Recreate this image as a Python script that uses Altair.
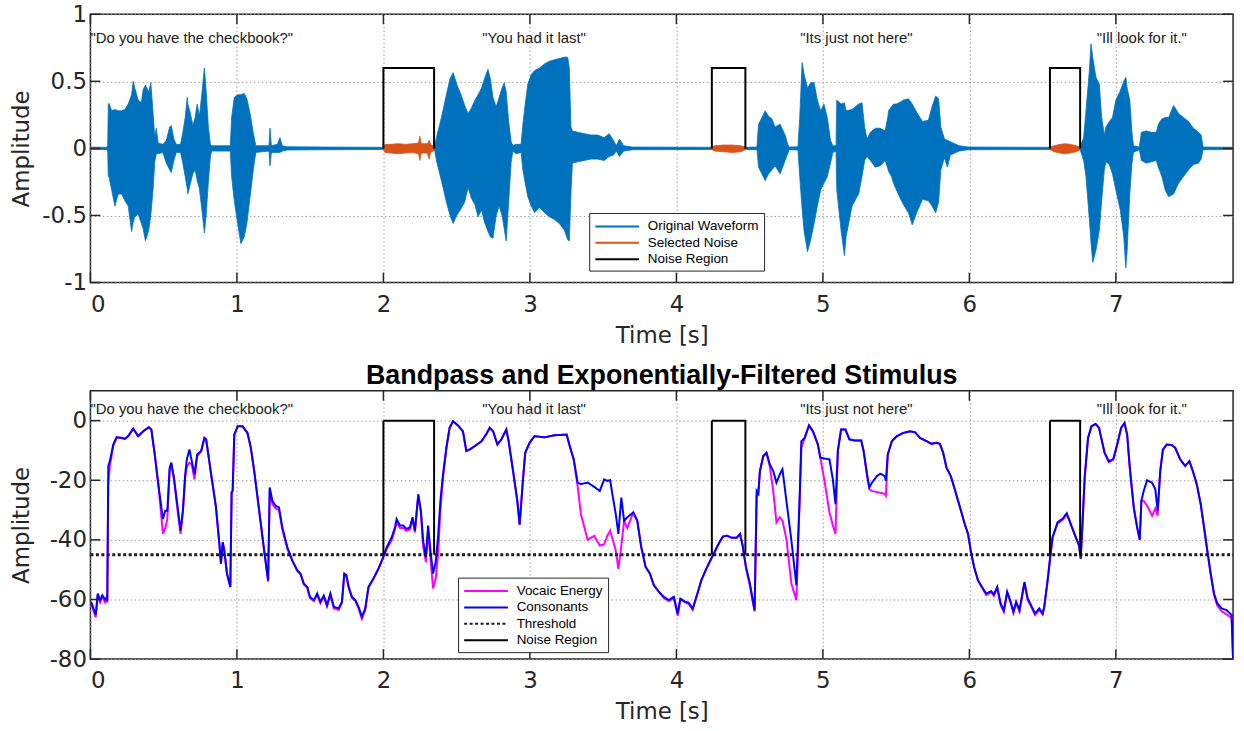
import altair as alt
import pandas as pd

FONT = "Liberation Sans"
AXIS_FONT = "DejaVu Sans"
INK = "#262626"

# ---------------- waveform (upper / lower envelope of the recorded signal) ----------------
wave_time = [
    0.000, 0.050, 0.110, 0.118, 0.122, 0.127, 0.145, 0.167, 0.190, 0.213, 0.235, 0.258,
    0.281, 0.292, 0.303, 0.326, 0.348, 0.360, 0.376, 0.398, 0.412, 0.428, 0.439, 0.450,
    0.462, 0.495, 0.518, 0.541, 0.552, 0.570, 0.586, 0.615, 0.631, 0.647, 0.661, 0.665,
    0.683, 0.699, 0.715, 0.729, 0.744, 0.760, 0.778, 0.790, 0.805, 0.819, 0.828, 0.955,
    0.964, 0.982, 1.005, 1.027, 1.050, 1.068, 1.090, 1.113, 1.129, 1.219, 1.226, 1.235,
    1.276, 1.294, 1.310, 1.344, 1.600, 2.000, 2.346, 2.351, 2.362, 2.396, 2.430, 2.455,
    2.476, 2.500, 2.530, 2.555, 2.578, 2.600, 2.625, 2.646, 2.670, 2.690, 2.714, 2.730,
    2.748, 2.770, 2.790, 2.810, 2.825, 2.838, 2.855, 2.872, 2.884, 2.905, 2.940, 2.952,
    2.968, 2.986, 3.009, 3.032, 3.066, 3.100, 3.133, 3.167, 3.201, 3.235, 3.258, 3.269,
    3.280, 3.290, 3.326, 3.371, 3.416, 3.462, 3.507, 3.541, 3.570, 3.590, 3.612, 3.640,
    3.700, 4.242, 4.471, 4.550, 4.561, 4.584, 4.606, 4.629, 4.652, 4.674, 4.708, 4.742,
    4.760, 4.770, 4.830, 4.842, 4.858, 4.872, 4.895, 4.917, 4.940, 4.962, 4.985, 5.007,
    5.030, 5.052, 5.068, 5.090, 5.095, 5.124, 5.147, 5.158, 5.199, 5.244, 5.267, 5.285,
    5.301, 5.324, 5.358, 5.392, 5.425, 5.443, 5.448, 5.468, 5.482, 5.502, 5.536, 5.550,
    5.584, 5.610, 5.640, 5.680, 5.720, 5.745, 5.770, 5.790, 5.805, 5.830, 5.850, 5.870,
    5.930, 5.990, 6.550, 6.756, 6.780, 6.796, 6.819, 6.830, 6.842, 6.864, 6.887, 6.903,
    6.921, 6.932, 6.955, 6.977, 7.000, 7.030, 7.054, 7.068, 7.077, 7.095, 7.109, 7.120,
    7.160, 7.174, 7.208, 7.242, 7.276, 7.290, 7.314, 7.337, 7.360, 7.394, 7.428, 7.462,
    7.496, 7.530, 7.564, 7.582, 7.595, 7.800,
]
wave_upper = [
    0.008, 0.009, 0.008, 0.020, 0.330, 0.336, 0.280, 0.290, 0.280, 0.280, 0.290, 0.330,
    0.400, 0.500, 0.450, 0.360, 0.340, 0.440, 0.470, 0.420, 0.490, 0.260, 0.080, 0.150,
    0.040, 0.030, 0.060, 0.160, 0.170, 0.070, 0.030, 0.030, 0.120, 0.230, 0.380, 0.330,
    0.260, 0.170, 0.230, 0.330, 0.240, 0.400, 0.600, 0.430, 0.160, 0.030, 0.020, 0.020,
    0.230, 0.380, 0.400, 0.400, 0.410, 0.370, 0.260, 0.110, 0.020, 0.020, 0.150, 0.020,
    0.030, 0.080, 0.020, 0.012, 0.010, 0.008, 0.010, 0.020, 0.080, 0.230, 0.400, 0.520,
    0.565, 0.480, 0.400, 0.320, 0.260, 0.300, 0.360, 0.400, 0.450, 0.520, 0.590, 0.520,
    0.380, 0.310, 0.380, 0.450, 0.490, 0.420, 0.200, 0.050, 0.020, 0.030, 0.030, 0.180,
    0.330, 0.480, 0.550, 0.580, 0.600, 0.630, 0.650, 0.660, 0.670, 0.680, 0.680, 0.600,
    0.160, 0.130, 0.120, 0.110, 0.100, 0.100, 0.080, 0.110, 0.060, 0.020, 0.070, 0.020,
    0.010, 0.008, 0.008, 0.010, 0.180, 0.230, 0.280, 0.240, 0.220, 0.160, 0.180, 0.100,
    0.030, 0.010, 0.012, 0.230, 0.640, 0.550, 0.450, 0.490, 0.490, 0.360, 0.280, 0.330,
    0.230, 0.060, 0.020, 0.020, 0.360, 0.330, 0.340, 0.280, 0.290, 0.330, 0.340, 0.160,
    0.070, 0.120, 0.150, 0.150, 0.130, 0.230, 0.280, 0.310, 0.330, 0.330, 0.350, 0.360,
    0.370, 0.330, 0.270, 0.200, 0.210, 0.310, 0.390, 0.370, 0.160, 0.070, 0.060, 0.050,
    0.020, 0.010, 0.008, 0.010, 0.080, 0.280, 0.580, 0.780, 0.680, 0.530, 0.480, 0.230,
    0.100, 0.160, 0.200, 0.230, 0.360, 0.430, 0.500, 0.530, 0.450, 0.360, 0.130, 0.020,
    0.010, 0.120, 0.130, 0.120, 0.120, 0.180, 0.220, 0.230, 0.230, 0.320, 0.260, 0.230,
    0.200, 0.150, 0.120, 0.100, 0.010, 0.008,
]
wave_lower = [
    -0.008, -0.008, -0.009, -0.020, -0.210, -0.210, -0.310, -0.430, -0.340, -0.340, -0.390, -0.430,
    -0.620, -0.550, -0.510, -0.490, -0.560, -0.600, -0.690, -0.610, -0.500, -0.300, -0.100, -0.040,
    -0.040, -0.030, -0.110, -0.160, -0.180, -0.090, -0.030, -0.030, -0.110, -0.210, -0.300, -0.340,
    -0.260, -0.190, -0.160, -0.240, -0.300, -0.450, -0.630, -0.500, -0.250, -0.060, -0.020, -0.020,
    -0.210, -0.390, -0.560, -0.710, -0.660, -0.560, -0.360, -0.150, -0.030, -0.020, -0.130, -0.030,
    -0.030, -0.030, -0.020, -0.012, -0.010, -0.008, -0.010, -0.020, -0.090, -0.240, -0.400, -0.500,
    -0.560, -0.500, -0.450, -0.400, -0.290, -0.370, -0.420, -0.510, -0.460, -0.550, -0.620, -0.660,
    -0.670, -0.500, -0.430, -0.500, -0.600, -0.690, -0.400, -0.100, -0.020, -0.040, -0.030, -0.160,
    -0.260, -0.360, -0.430, -0.480, -0.440, -0.480, -0.510, -0.530, -0.560, -0.610, -0.680, -0.690,
    -0.340, -0.110, -0.100, -0.090, -0.080, -0.080, -0.090, -0.060, -0.050, -0.020, -0.060, -0.020,
    -0.010, -0.008, -0.008, -0.010, -0.140, -0.190, -0.240, -0.190, -0.160, -0.130, -0.190, -0.090,
    -0.040, -0.010, -0.012, -0.210, -0.450, -0.620, -0.770, -0.680, -0.560, -0.430, -0.310, -0.260,
    -0.210, -0.110, -0.030, -0.020, -0.310, -0.610, -0.800, -0.660, -0.430, -0.340, -0.210, -0.090,
    -0.060, -0.090, -0.140, -0.130, -0.090, -0.150, -0.170, -0.210, -0.260, -0.310, -0.390, -0.420,
    -0.480, -0.570, -0.480, -0.380, -0.390, -0.430, -0.480, -0.400, -0.160, -0.070, -0.140, -0.050,
    -0.020, -0.010, -0.008, -0.010, -0.090, -0.210, -0.530, -0.700, -0.850, -0.760, -0.610, -0.390,
    -0.160, -0.100, -0.120, -0.190, -0.310, -0.460, -0.660, -0.890, -0.760, -0.340, -0.120, -0.030,
    -0.010, -0.090, -0.110, -0.100, -0.090, -0.140, -0.210, -0.310, -0.360, -0.340, -0.260, -0.210,
    -0.160, -0.120, -0.110, -0.080, -0.010, -0.008,
]

# ---------------- noise picked out of the three pauses ----------------
noise_time = [
    2.000, 2.010, 2.050, 2.100, 2.150, 2.200, 2.240, 2.249, 2.258, 2.300, 2.312, 2.322, 2.346,
    4.242, 4.260, 4.320, 4.380, 4.440, 4.471,
    6.550, 6.580, 6.620, 6.650, 6.690, 6.730, 6.756,
]
noise_upper = [
    0.010, 0.030, 0.030, 0.035, 0.030, 0.035, 0.040, 0.090, 0.035, 0.035, 0.060, 0.030, 0.015,
    0.008, 0.020, 0.025, 0.025, 0.020, 0.010,
    0.010, 0.020, 0.030, 0.035, 0.030, 0.020, 0.010,
]
noise_lower = [
    -0.010, -0.030, -0.035, -0.040, -0.035, -0.030, -0.040, -0.090, -0.035, -0.035, -0.080, -0.030, -0.015,
    -0.008, -0.020, -0.025, -0.030, -0.025, -0.010,
    -0.010, -0.025, -0.035, -0.040, -0.035, -0.025, -0.010,
]
noise_part = [1] * 13 + [2] * 6 + [3] * 7

# noise regions (s) and their marker heights in each panel
region_start = [2.000, 4.242, 6.550]
region_end = [2.346, 4.471, 6.756]
region_top_amp = 0.6
region_level_low, region_level_high = -45, 0

threshold_level = -45

# ---------------- band-passed, exponentially filtered envelopes ----------------
env_time = [
    0.000, 0.009, 0.036, 0.050, 0.066, 0.081, 0.100, 0.111, 0.115, 0.122, 0.133, 0.156,
    0.179, 0.213, 0.235, 0.258, 0.292, 0.326, 0.360, 0.398, 0.416, 0.439, 0.466, 0.495,
    0.511, 0.525, 0.541, 0.552, 0.570, 0.597, 0.615, 0.631, 0.647, 0.658, 0.676, 0.692,
    0.710, 0.729, 0.756, 0.778, 0.790, 0.824, 0.857, 0.880, 0.891, 0.903, 0.914, 0.932,
    0.955, 0.964, 0.971, 0.982, 1.005, 1.038, 1.072, 1.095, 1.118, 1.152, 1.186, 1.213,
    1.224, 1.242, 1.265, 1.287, 1.310, 1.344, 1.378, 1.412, 1.434, 1.457, 1.480, 1.498,
    1.525, 1.548, 1.570, 1.593, 1.615, 1.638, 1.661, 1.695, 1.717, 1.733, 1.747, 1.763,
    1.785, 1.808, 1.830, 1.853, 1.876, 1.898, 1.932, 1.966, 1.995, 2.023, 2.057, 2.079,
    2.090, 2.113, 2.136, 2.158, 2.181, 2.199, 2.215, 2.238, 2.256, 2.271, 2.290, 2.305,
    2.321, 2.339, 2.357, 2.373, 2.389, 2.407, 2.430, 2.452, 2.475, 2.509, 2.543, 2.566,
    2.588, 2.622, 2.670, 2.704, 2.726, 2.749, 2.778, 2.805, 2.839, 2.855, 2.885, 2.914,
    2.930, 2.952, 2.968, 2.998, 3.032, 3.100, 3.167, 3.251, 3.269, 3.299, 3.326, 3.348,
    3.394, 3.439, 3.477, 3.507, 3.529, 3.548, 3.563, 3.586, 3.604, 3.624, 3.643, 3.665,
    3.706, 3.733, 3.760, 3.790, 3.819, 3.846, 3.880, 3.914, 3.948, 3.982, 4.009, 4.027,
    4.061, 4.084, 4.111, 4.140, 4.170, 4.204, 4.238, 4.265, 4.294, 4.317, 4.344, 4.378,
    4.412, 4.434, 4.452, 4.475, 4.502, 4.520, 4.534, 4.548, 4.559, 4.570, 4.593, 4.615,
    4.638, 4.661, 4.683, 4.706, 4.724, 4.751, 4.785, 4.819, 4.842, 4.853, 4.876, 4.905,
    4.932, 4.966, 4.982, 5.011, 5.045, 5.068, 5.086, 5.102, 5.124, 5.154, 5.181, 5.222,
    5.262, 5.278, 5.301, 5.317, 5.335, 5.369, 5.391, 5.421, 5.430, 5.443, 5.471, 5.505,
    5.550, 5.595, 5.629, 5.663, 5.708, 5.742, 5.776, 5.799, 5.821, 5.844, 5.873, 5.900,
    5.923, 5.946, 5.968, 5.991, 6.009, 6.032, 6.059, 6.086, 6.115, 6.149, 6.167, 6.190,
    6.213, 6.235, 6.258, 6.278, 6.301, 6.319, 6.342, 6.376, 6.398, 6.421, 6.448, 6.477,
    6.500, 6.511, 6.534, 6.552, 6.568, 6.602, 6.636, 6.665, 6.692, 6.726, 6.749, 6.760,
    6.771, 6.787, 6.810, 6.833, 6.862, 6.885, 6.900, 6.923, 6.952, 6.982, 7.009, 7.036,
    7.059, 7.077, 7.095, 7.122, 7.145, 7.163, 7.174, 7.190, 7.213, 7.247, 7.269, 7.285,
    7.303, 7.321, 7.348, 7.382, 7.405, 7.439, 7.473, 7.502, 7.525, 7.552, 7.579, 7.602,
    7.624, 7.647, 7.670, 7.692, 7.722, 7.756, 7.790, 7.800,
]
consonants = [
    -60.8, -61.3, -65.2, -58.0, -60.2, -58.6, -60.0, -59.3, -60.5, -15.2, -13.5, -8.0,
    -5.6, -5.8, -6.1, -5.2, -2.7, -5.2, -3.6, -2.2, -3.0, -11.3, -22.4, -33.0,
    -30.2, -30.2, -15.8, -14.1, -19.1, -29.7, -36.9, -30.2, -18.0, -13.0, -9.7, -13.6,
    -18.0, -11.3, -10.2, -5.8, -6.3, -18.0, -29.0, -41.3, -48.0, -40.8, -43.6, -51.3,
    -55.8, -24.1, -23.5, -4.7, -1.9, -1.9, -4.1, -9.1, -16.9, -30.2, -43.6, -53.6,
    -22.4, -26.9, -28.6, -29.1, -35.8, -42.4, -46.9, -50.2, -51.3, -54.7, -55.8, -59.1,
    -60.2, -58.0, -60.8, -58.7, -61.9, -58.0, -62.4, -63.0, -60.8, -51.3, -51.8, -55.8,
    -59.1, -60.2, -62.4, -65.8, -63.0, -55.8, -53.0, -49.7, -46.3, -42.4, -39.1, -35.8,
    -33.0, -35.2, -35.2, -36.3, -35.8, -32.4, -36.9, -24.7, -30.2, -40.2, -45.8, -35.2,
    -43.6, -51.3, -47.4, -39.1, -26.9, -18.0, -9.1, -2.4, -0.2, -1.6, -3.6, -10.2,
    -9.7, -8.6, -6.9, -4.4, -2.4, -3.6, -8.0, -6.3, -3.0, -6.9, -16.9, -26.9,
    -34.9, -20.2, -10.8, -7.4, -5.2, -5.6, -4.9, -4.7, -8.0, -13.0, -20.8, -21.3,
    -20.8, -22.2, -23.6, -19.7, -20.2, -20.0, -24.7, -31.3, -38.0, -25.8, -33.6, -32.4,
    -30.8, -33.6, -42.4, -49.1, -51.3, -55.2, -57.4, -59.1, -60.2, -59.1, -64.7, -59.7,
    -60.8, -61.1, -63.0, -58.6, -53.6, -49.7, -46.3, -43.6, -40.8, -38.9, -38.6, -39.3,
    -39.3, -38.0, -41.9, -49.1, -54.7, -59.7, -63.6, -23.6, -24.4, -16.9, -11.9, -10.8,
    -14.7, -16.9, -20.8, -18.0, -16.3, -26.9, -40.2, -55.2, -24.7, -6.9, -5.8, -1.6,
    -3.6, -8.0, -12.4, -12.7, -13.0, -19.7, -28.0, -10.2, -3.0, -3.0, -6.3, -6.7,
    -6.7, -10.2, -18.0, -22.4, -20.8, -18.6, -17.8, -18.6, -20.2, -11.3, -6.9, -5.2,
    -4.1, -3.6, -3.9, -5.8, -6.9, -7.8, -7.4, -7.8, -10.8, -15.8, -18.6, -23.0,
    -26.9, -30.8, -34.7, -38.0, -43.6, -49.1, -53.6, -55.8, -58.0, -57.2, -58.3, -55.8,
    -61.3, -63.6, -57.4, -60.2, -64.1, -60.8, -63.6, -54.1, -59.7, -61.9, -64.7, -63.0,
    -64.7, -62.4, -53.6, -45.8, -39.1, -34.1, -32.9, -31.1, -34.7, -39.1, -41.9, -46.3,
    -35.8, -19.1, -5.8, -1.9, -1.1, -2.4, -5.8, -10.8, -13.6, -13.0, -8.0, -2.4,
    -0.8, -4.7, -15.8, -29.1, -35.8, -40.0, -26.9, -23.6, -20.0, -20.8, -23.0, -30.2,
    -16.9, -9.7, -8.0, -8.2, -9.1, -13.0, -15.2, -13.6, -16.9, -21.3, -28.0, -35.8,
    -43.6, -51.3, -58.0, -61.3, -63.0, -63.6, -65.2, -80.0,
]
vocaic = [
    -61.5, -62.0, -66.0, -58.5, -61.0, -59.0, -61.0, -60.0, -61.0, -21.3, -15.0, -8.5,
    -5.6, -5.8, -6.1, -5.2, -2.7, -5.2, -3.6, -2.2, -3.0, -11.3, -22.4, -38.0,
    -36.0, -33.0, -16.5, -14.5, -19.5, -31.0, -38.0, -31.0, -19.0, -15.5, -14.1, -14.7,
    -19.7, -12.0, -10.2, -5.8, -6.3, -18.0, -29.0, -41.3, -48.0, -40.8, -43.6, -51.3,
    -55.8, -24.1, -23.5, -4.7, -1.9, -1.9, -4.1, -9.1, -16.9, -30.2, -43.6, -54.0,
    -23.5, -28.0, -29.5, -30.0, -36.5, -43.0, -47.0, -50.5, -51.5, -55.0, -56.0, -59.5,
    -60.5, -58.5, -61.2, -59.0, -62.3, -58.5, -63.0, -63.5, -61.0, -51.5, -52.0, -56.0,
    -59.5, -60.5, -63.0, -66.5, -63.5, -56.0, -53.0, -49.7, -46.3, -43.0, -40.0, -36.5,
    -34.0, -36.0, -36.0, -37.0, -36.5, -33.0, -37.5, -25.0, -31.0, -42.0, -47.5, -37.0,
    -46.0, -56.3, -53.0, -45.0, -30.0, -19.0, -9.1, -2.4, -0.2, -1.6, -3.6, -10.2,
    -9.7, -8.6, -6.9, -4.4, -2.4, -3.6, -8.0, -6.3, -3.0, -6.9, -16.9, -26.9,
    -34.9, -20.2, -10.8, -7.4, -5.2, -5.6, -4.9, -4.7, -8.0, -13.0, -22.0, -31.3,
    -40.0, -38.6, -41.9, -41.5, -38.6, -36.9, -39.5, -43.5, -49.7, -42.0, -33.6, -36.0,
    -30.8, -33.6, -42.4, -49.1, -51.3, -55.2, -57.4, -59.5, -60.5, -59.5, -65.5, -60.0,
    -61.0, -61.5, -63.5, -58.6, -53.6, -49.7, -46.3, -43.6, -40.8, -38.9, -38.6, -39.3,
    -39.3, -38.0, -41.9, -49.5, -55.5, -60.5, -64.0, -25.0, -25.0, -17.0, -11.9, -10.8,
    -15.5, -23.6, -34.1, -32.4, -33.5, -39.7, -54.7, -60.2, -26.0, -9.0, -5.8, -1.6,
    -3.6, -8.0, -12.4, -20.2, -30.8, -35.2, -38.0, -10.2, -3.0, -3.0, -6.3, -6.7,
    -6.7, -10.2, -18.0, -23.0, -23.6, -24.0, -24.2, -24.5, -25.2, -11.3, -6.9, -5.2,
    -4.1, -3.6, -3.9, -5.8, -6.9, -7.8, -7.4, -7.8, -10.8, -15.8, -18.6, -23.0,
    -26.9, -30.8, -34.7, -38.0, -43.6, -49.1, -53.6, -56.0, -58.5, -57.5, -58.8, -56.0,
    -61.8, -64.2, -57.8, -60.5, -64.5, -61.0, -64.0, -54.5, -60.2, -62.3, -65.2, -63.5,
    -65.0, -62.8, -53.6, -45.8, -39.1, -34.5, -33.3, -31.5, -34.7, -39.1, -41.9, -46.3,
    -35.8, -19.1, -5.8, -1.9, -1.1, -2.4, -5.8, -10.8, -14.0, -13.0, -8.0, -2.4,
    -0.8, -4.7, -15.8, -29.1, -35.8, -40.0, -26.9, -26.9, -28.5, -31.9, -29.5, -31.9,
    -16.9, -9.7, -8.0, -8.2, -9.1, -13.0, -15.2, -13.6, -16.9, -21.3, -28.0, -35.8,
    -43.6, -51.3, -58.5, -62.0, -64.0, -65.0, -66.2, -80.0,
]

# ---------------- spoken phrases ----------------
quote_time = [0.0, 2.675, 4.845, 6.87]
quote_text = ['"Do you have the checkbook?"', '"You had it last"', '"Its just not here"', '"Ill look for it."']

# axis ticks
time_ticks = [0, 1, 2, 3, 4, 5, 6, 7]
amp_ticks = [-1, -0.5, 0, 0.5, 1]
level_ticks = [-80, -60, -40, -20, 0]

# ---------------- tables ----------------
wave_df = pd.DataFrame({"t": wave_time, "upper": wave_upper, "lower": wave_lower,
                        "series": "Original Waveform"})
noise_df = pd.DataFrame({"t": noise_time, "upper": noise_upper, "lower": noise_lower,
                         "part": noise_part, "series": "Selected Noise"})


def region_outline(low, high):
    rows = []
    for i, (s, e) in enumerate(zip(region_start, region_end)):
        for k, (t, v) in enumerate([(s, low), (s, high), (e, high), (e, low)]):
            rows.append({"t": t, "v": v, "region": i, "k": k, "series": "Noise Region"})
    return pd.DataFrame(rows)


top_region_df = region_outline(0, region_top_amp)
bottom_region_df = region_outline(region_level_low, region_level_high)
vocaic_df = pd.DataFrame({"t": env_time, "v": vocaic, "series": "Vocaic Energy"})
cons_df = pd.DataFrame({"t": env_time, "v": consonants, "series": "Consonants"})
thr_df = pd.DataFrame({"t": [0, 7.8], "v": [threshold_level] * 2, "series": "Threshold"})
quote_df = pd.DataFrame({"t": quote_time, "label": quote_text})

# ---------------- shared scales / axes ----------------
W, H = 1150, 270
TICK = 10
x_scale = alt.Scale(domain=[0, 7.8], nice=False, zero=False)
amp_scale = alt.Scale(domain=[-1, 1], nice=False, zero=False)
level_scale = alt.Scale(domain=[-80, 10], nice=False, zero=False)

x_axis = alt.Axis(values=time_ticks, title="Time [s]", labelExpr="'' + datum.value",
                  labelPadding=11, titlePadding=8)


def y_axis(values):
    return alt.Axis(values=values, title="Amplitude", labelExpr="'' + datum.value",
                    labelPadding=4, titleX=-62, titleBaseline="alphabetic")


legend_style = dict(orient="none", title=None, symbolType="M-1,0H5", symbolSize=215,
                    symbolStrokeWidth=2, labelFontSize=13.5, labelFont=FONT, labelColor="black",
                    labelOffset=37, padding=5, strokeColor=INK, fillColor="white",
                    rowPadding=1.5, symbolOpacity=1)


def inner_ticks(y_vals, y_scale, x_ax, y_ax):
    """Short tick marks pointing into the plot on all four sides."""
    xt = pd.DataFrame({"t": time_ticks})
    yt = pd.DataFrame({"yv": y_vals})
    xs = alt.X("t:Q", scale=x_scale, axis=x_ax)
    ys = alt.Y("yv:Q", scale=y_scale, axis=y_ax)
    tx = alt.Chart(xt).mark_tick(color=INK, orient="vertical", size=TICK, thickness=1.5, opacity=1)
    ty = alt.Chart(yt).mark_tick(color=INK, orient="horizontal", size=TICK, thickness=1.5, opacity=1)
    return [
        ty.encode(y=ys, x=alt.value(TICK / 2)),
        ty.encode(y=ys, x=alt.value(W - TICK / 2)),
        tx.encode(x=xs, y=alt.value(H - TICK / 2)),
        tx.encode(x=xs, y=alt.value(TICK / 2)),
    ]


def quotes(y_px):
    return alt.Chart(quote_df).mark_text(align="left", baseline="middle", font=FONT,
                                          fontSize=15, color="#1a1a1a").encode(
        x=alt.X("t:Q", scale=x_scale), y=alt.value(y_px), text="label:N")


# ---------------- top panel: raw waveform ----------------
top_stroke = alt.Stroke(
    "series:N",
    scale=alt.Scale(domain=["Original Waveform", "Selected Noise", "Noise Region"],
                    range=["#0072BD", "#D95319", "#000000"]),
    legend=alt.Legend(legendX=502, legendY=200, **legend_style),
)
tx_enc = alt.X("t:Q", scale=x_scale, axis=x_axis)

wave = alt.Chart(wave_df).mark_area(fill="#0072BD", strokeWidth=0.8, clip=True).encode(
    x=tx_enc, y=alt.Y("upper:Q", scale=amp_scale, axis=y_axis(amp_ticks)),
    y2="lower:Q", stroke=top_stroke,
)
noise = alt.Chart(noise_df).mark_area(fill="#D95319", strokeWidth=0.8, clip=True).encode(
    x=tx_enc, y=alt.Y("upper:Q", scale=amp_scale, axis=y_axis(amp_ticks)),
    y2="lower:Q", detail="part:N", stroke=top_stroke,
)
top_regions = alt.Chart(top_region_df).mark_line(strokeWidth=2).encode(
    x=tx_enc, y=alt.Y("v:Q", scale=amp_scale, axis=y_axis(amp_ticks)),
    detail="region:N", order="k:O", stroke=top_stroke,
)

top = alt.layer(
    wave, noise, top_regions, quotes(24),
    *inner_ticks(amp_ticks, amp_scale, x_axis, y_axis(amp_ticks)),
).properties(width=W, height=H)

# ---------------- bottom panel: filtered envelopes ----------------
bot_domain = ["Vocaic Energy", "Consonants", "Threshold", "Noise Region"]
bot_stroke = alt.Stroke(
    "series:N",
    scale=alt.Scale(domain=bot_domain, range=["#FF00FF", "#0000FF", "#1a1a1a", "#000000"]),
    legend=alt.Legend(legendX=370, legendY=188, **legend_style),
)
bot_dash = alt.StrokeDash(
    "series:N",
    scale=alt.Scale(domain=bot_domain, range=[[1, 0], [1, 0], [3, 2.5], [1, 0]]),
    legend=alt.Legend(legendX=370, legendY=188, **legend_style),
)
bx = alt.X("t:Q", scale=x_scale, axis=x_axis)
by = alt.Y("v:Q", scale=level_scale, axis=y_axis(level_ticks))

voc_line = alt.Chart(vocaic_df).mark_line(strokeWidth=2, clip=True).encode(
    x=bx, y=by, stroke=bot_stroke, strokeDash=bot_dash)
cons_line = alt.Chart(cons_df).mark_line(strokeWidth=2, clip=True).encode(
    x=bx, y=by, stroke=bot_stroke, strokeDash=bot_dash)
thr_line = alt.Chart(thr_df).mark_line(strokeWidth=3).encode(
    x=bx, y=by, stroke=bot_stroke, strokeDash=bot_dash)
bot_regions = alt.Chart(bottom_region_df).mark_line(strokeWidth=2).encode(
    x=bx, y=by, detail="region:N", order="k:O", stroke=bot_stroke, strokeDash=bot_dash)

bottom = alt.layer(
    voc_line, cons_line, thr_line, bot_regions, quotes(18),
    *inner_ticks(level_ticks, level_scale, x_axis, y_axis(level_ticks)),
).properties(
    width=W, height=H,
    title=alt.TitleParams("Bandpass and Exponentially-Filtered Stimulus", font=FONT, fontSize=27,
                          fontWeight="bold", color="black", offset=1, anchor="middle"),
)

chart = alt.vconcat(top, bottom, spacing=13).resolve_scale(
    y="independent", stroke="independent", strokeDash="independent"
).properties(
    padding={"left": 10, "top": 0, "right": 4, "bottom": 2}
).configure_view(
    stroke=INK, strokeWidth=1.5
).configure_axis(
    labelFont=AXIS_FONT, labelFontSize=23, labelColor=INK,
    titleFont=AXIS_FONT, titleFontSize=23, titleFontWeight="normal", titleColor=INK,
    grid=True, gridColor="#9a9a9a", gridDash=[1.5, 2.5], gridWidth=1,
    domain=False, ticks=False, tickSize=0,
)

chart.save("out.html", embed_options={"renderer": "svg", "actions": False})
